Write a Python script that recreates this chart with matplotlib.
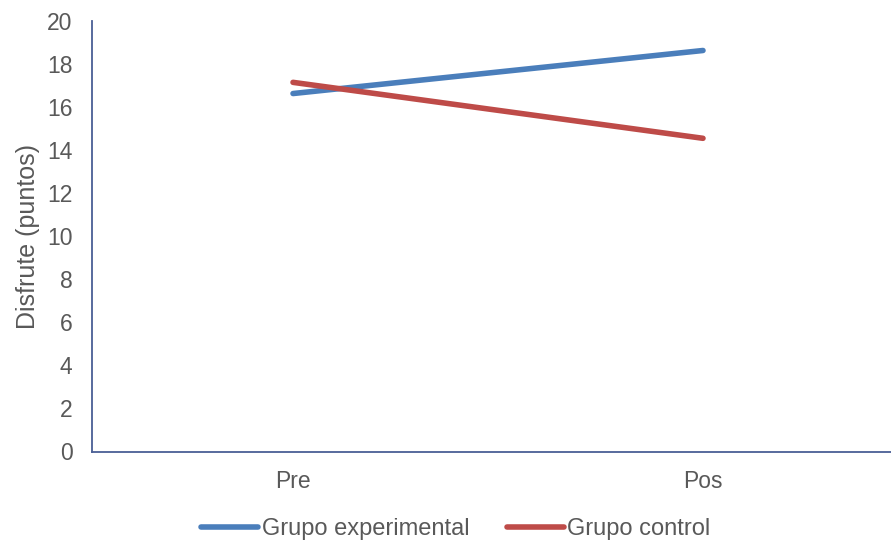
import matplotlib
matplotlib.use("Agg")
import matplotlib.pyplot as plt

categories = ["Pre", "Pos"]
experimental = [16.63, 18.63]
control = [17.15, 14.55]
yticks = [0, 2, 4, 6, 8, 10, 12, 14, 16, 18, 20]

plt.rcParams['font.family'] = ['Liberation Sans', 'DejaVu Sans']
W, H = 891, 541
fig = plt.figure(figsize=(W/100, H/100), dpi=100)
left, right, top, bottom = 92, 891, 21, 451.5
ax = fig.add_axes([left/W, 1-bottom/H, (right-left)/W, (bottom-top)/H])

x = list(range(len(categories)))
ax.plot(x, experimental, color='#4A7EBB', lw=4.0, solid_capstyle='round', label='Grupo experimental')
ax.plot(x, control, color='#BE4B48', lw=4.0, solid_capstyle='round', label='Grupo control')

ax.set_xlim(-(293-left)/410, 1 + (right-703)/410)
ax.set_ylim(0, 20)
ax.set_yticks(yticks)
ax.set_xticks(x)
ax.set_xticklabels(categories)
ax.tick_params(axis='both', length=0, labelsize=16.5, colors='#595959')
ax.tick_params(axis='y', pad=14)
ax.tick_params(axis='x', pad=13)
for s in ['top', 'right']:
    ax.spines[s].set_visible(False)
for s in ['left', 'bottom']:
    ax.spines[s].set_color('#4A5F95')
    ax.spines[s].set_linewidth(1.3)
ax.set_ylabel('Disfrute (puntos)', fontsize=18, color='#595959', labelpad=5)

leg = fig.legend(loc='center', bbox_to_anchor=(456/W, 1-529/H), ncol=2, frameon=False,
                 fontsize=17, handlelength=2.4, handletextpad=0.15, columnspacing=1.6,
                 labelcolor='#595959', borderpad=0)
fig.savefig('out.png', dpi=100)
